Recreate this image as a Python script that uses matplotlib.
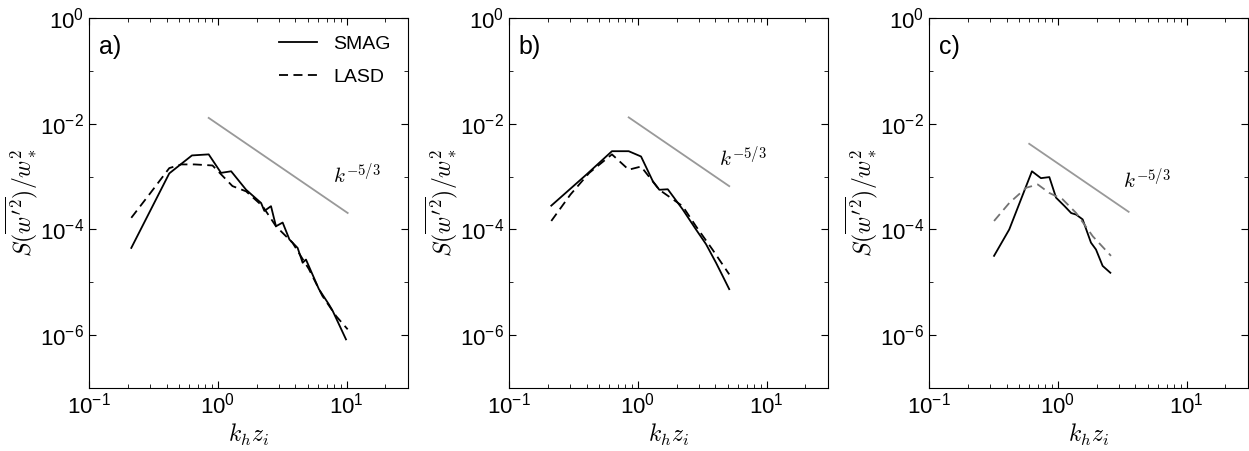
import numpy as np
import matplotlib.pyplot as plt
from matplotlib.ticker import FixedLocator, NullFormatter, LogLocator

plt.rcParams['font.family'] = ['Liberation Sans', 'DejaVu Sans']
plt.rcParams['mathtext.fontset'] = 'cm'

# panel a
a_smag_x = [0.213, 0.42, 0.63, 0.85, 1.06, 1.27, 1.66, 2.17, 2.3, 2.59, 2.83, 3.19, 3.6, 4.17, 4.56, 4.84, 6.1, 7.3, 7.8, 9.9]
a_smag_y = [-4.35, -2.94, -2.60, -2.58, -2.93, -2.90, -3.25, -3.5, -3.65, -3.56, -3.94, -3.87, -4.19, -4.35, -4.63, -4.57, -5.13, -5.42, -5.54, -6.08]
a_lasd_x = [0.213, 0.30, 0.42, 0.52, 0.66, 0.91, 1.3, 1.66, 2.23, 2.83, 3.8, 5.1, 6.5, 8.3, 10.2]
a_lasd_y = [-3.78, -3.31, -2.84, -2.77, -2.77, -2.79, -3.18, -3.28, -3.56, -3.94, -4.25, -4.75, -5.26, -5.64, -5.89]
# panel b
b_smag_x = [0.213, 0.40, 0.63, 0.85, 1.06, 1.31, 1.47, 1.71, 2.23, 2.83, 3.39, 4.05, 4.56, 5.13]
b_smag_y = [-3.55, -2.96, -2.52, -2.52, -2.62, -3.09, -3.25, -3.24, -3.62, -4.0, -4.28, -4.63, -4.88, -5.13]
b_lasd_x = [0.213, 0.30, 0.42, 0.63, 0.85, 1.06, 1.47, 2.23, 2.83, 3.8, 5.13]
b_lasd_y = [-3.84, -3.34, -2.93, -2.58, -2.87, -2.81, -3.25, -3.56, -3.94, -4.38, -4.85]
# panel c
c_smag_x = [0.32, 0.42, 0.63, 0.74, 0.86, 0.97, 1.13, 1.27, 1.39, 1.56, 1.81, 1.98, 2.23, 2.56]
c_smag_y = [-4.50, -4.0, -2.90, -3.03, -3.01, -3.40, -3.56, -3.69, -3.72, -3.81, -4.25, -4.38, -4.69, -4.82]
c_lasd_x = [0.32, 0.42, 0.57, 0.70, 0.86, 1.09, 1.39, 1.87, 2.59]
c_lasd_y = [-3.84, -3.50, -3.21, -3.15, -3.31, -3.43, -3.69, -4.13, -4.50]

# reference -5/3 slopes: (x0, log y0, x1), text position
ref_lines = [(0.85, -1.89, 10.2, 7.8, -2.96), (0.85, -1.88, 5.13, 4.3, -2.65), (0.60, -2.38, 3.55, 3.19, -3.06)]

panels = [
    ('a)', a_smag_x, a_smag_y, a_lasd_x, a_lasd_y, 'k'),
    ('b)', b_smag_x, b_smag_y, b_lasd_x, b_lasd_y, 'k'),
    ('c)', c_smag_x, c_smag_y, c_lasd_x, c_lasd_y, '0.45'),
]

fig = plt.figure(figsize=(12.49, 4.51), dpi=100)
lefts = [89, 509, 929]
for i, (lab, sx, sy, lx, ly, lcol) in enumerate(panels):
    ax = fig.add_axes([lefts[i] / 1249, 63 / 451, 319 / 1249, 370 / 451])
    ax.plot(sx, 10 ** np.array(sy), 'k-', lw=1.3, label='SMAG')
    ax.plot(lx, 10 ** np.array(ly), '--', color=lcol, lw=1.3, dashes=(5, 3), label='LASD')
    x0, y0, x1, tx, ty = ref_lines[i]
    xr = np.array([x0, x1])
    ax.plot(xr, 10 ** y0 * (xr / x0) ** (-5 / 3), color='0.6', lw=1.3)
    ax.text(tx, 10 ** ty, r'$k^{-5/3}$', fontsize=15, ha='left', va='center')
    ax.set_xscale('log')
    ax.set_yscale('log')
    ax.set_xlim(0.1, 30)
    ax.set_ylim(1e-7, 1)
    ax.yaxis.set_major_locator(FixedLocator([1e-6, 1e-4, 1e-2, 1]))
    ax.yaxis.set_minor_locator(FixedLocator([1e-7, 1e-5, 1e-3, 1e-1]))
    ax.yaxis.set_minor_formatter(NullFormatter())
    ax.xaxis.set_major_locator(FixedLocator([0.1, 1, 10]))
    ax.xaxis.set_minor_locator(LogLocator(base=10, subs=np.arange(2, 10)))
    ax.xaxis.set_minor_formatter(NullFormatter())
    ax.set_yticklabels([r'$\mathregular{10^{-6}}$', r'$\mathregular{10^{-4}}$', r'$\mathregular{10^{-2}}$', r'$\mathregular{10^{0}}$'])
    ax.set_xticklabels([r'$\mathregular{10^{-1}}$', r'$\mathregular{10^{0}}$', r'$\mathregular{10^{1}}$'])
    ax.tick_params(which='both', direction='in', top=True, right=True, labelsize=16)
    ax.tick_params(which='major', length=5)
    ax.tick_params(which='minor', length=3)
    ax.set_xlabel(r'$k_h z_i$', fontsize=17, labelpad=2)
    ax.set_ylabel(r"$S(\overline{w'^2})/w_*^2$", fontsize=17, labelpad=0)
    ax.text(0.03, 0.955, lab, transform=ax.transAxes, fontsize=18, va='top')
    if i == 0:
        ax.legend(loc='upper right', frameon=False, fontsize=14, handlelength=2.0, labelspacing=0.8)

fig.savefig('out.png', dpi=100)
